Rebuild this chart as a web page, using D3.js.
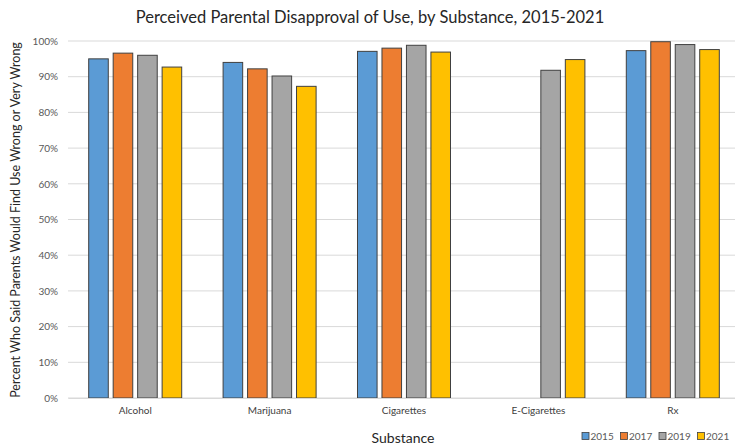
<!DOCTYPE html>
<html><head><meta charset="utf-8">
<script src="https://cdn.jsdelivr.net/npm/d3@7"></script>
<style>body{margin:0;background:#fff;} text{font-family:Lato, "Open Sans", sans-serif;}</style>
</head><body><svg id="c" width="735" height="447"></svg>
<script>
const categories = ["Alcohol","Marijuana","Cigarettes","E-Cigarettes","Rx"];
const years = ["2015","2017","2019","2021"];
const v2015 = [0.950, 0.940, 0.971, null, 0.973];
const v2017 = [0.966, 0.922, 0.980, null, 0.998];
const v2019 = [0.960, 0.902, 0.988, 0.918, 0.990];
const v2021 = [0.927, 0.873, 0.969, 0.948, 0.976];
const colors = ["#5B9BD5","#ED7D31","#A5A5A5","#FFC000"];
const yTicks = [0,0.1,0.2,0.3,0.4,0.5,0.6,0.7,0.8,0.9,1.0];

const series = [v2015,v2017,v2019,v2021];
const svg = d3.select("#c");
const x0 = d3.scaleBand().domain(categories).range([68,740]).paddingInner(0.308).paddingOuter(0.154);
const x1 = d3.scaleBand().domain(years).range([0,x0.bandwidth()]).paddingInner(0.2).paddingOuter(0);
const y = d3.scaleLinear().domain([0,1]).range([398,41]);

// gridlines
svg.append("g").selectAll("line").data(yTicks).join("line")
  .attr("x1",68).attr("x2",740).attr("y1",d=>y(d)).attr("y2",d=>y(d))
  .attr("stroke","#d9d9d9").attr("stroke-width",1);

// y axis labels
const yAxis = d3.axisLeft(y).tickValues(yTicks).tickFormat(d3.format(".0%")).tickSize(0).tickPadding(10);
const ga = svg.append("g").attr("transform","translate(68,0)").call(yAxis);
ga.select(".domain").remove();
ga.selectAll("text").attr("fill","#595959").style("font-size","10px").style("font-family","Lato, sans-serif");

// bars
const rows = [];
categories.forEach((c,i)=>years.forEach((yr,j)=>{ if(series[j][i]!=null) rows.push({c,yr,v:series[j][i],j}); }));
svg.append("g").selectAll("rect").data(rows).join("rect")
  .attr("x",d=>x0(d.c)+x1(d.yr)).attr("width",x1.bandwidth())
  .attr("y",d=>y(d.v)).attr("height",d=>y(0)-y(d.v))
  .attr("fill",d=>colors[d.j]).attr("stroke","#404040").attr("stroke-width",1);

// x axis
const xAxis = d3.axisBottom(x0).tickSize(0).tickPadding(9);
const gx = svg.append("g").attr("transform","translate(0,398)").call(xAxis);
gx.select(".domain").attr("stroke","#d9d9d9");
gx.selectAll("text").attr("fill","#404040").style("font-size","10px").style("font-family","Lato, sans-serif");

// title
svg.append("text").attr("x",370).attr("y",23).attr("text-anchor","middle")
  .style("font-size","16.5px").attr("fill","#262626").text("Perceived Parental Disapproval of Use, by Substance, 2015-2021");
// axis titles
svg.append("text").attr("transform","translate(20,220) rotate(-90)").attr("text-anchor","middle")
  .style("font-size","12.5px").attr("fill","#262626").text("Percent Who Said Parents Would Find Use Wrong or Very Wrong");
svg.append("text").attr("x",403).attr("y",443).attr("text-anchor","middle")
  .style("font-size","14px").attr("fill","#262626").text("Substance");

// legend
const lg = svg.append("g").selectAll("g").data(years).join("g")
  .attr("transform",(d,i)=>`translate(${582+i*38.5},436)`);
lg.append("rect").attr("x",0).attr("y",-3.5).attr("width",7).attr("height",7)
  .attr("fill",(d,i)=>colors[i]).attr("stroke","#404040").attr("stroke-width",0.8);
lg.append("text").attr("x",8.5).attr("y",3.5).style("font-size","10px").attr("fill","#595959").text(d=>d);
</script></body></html>
